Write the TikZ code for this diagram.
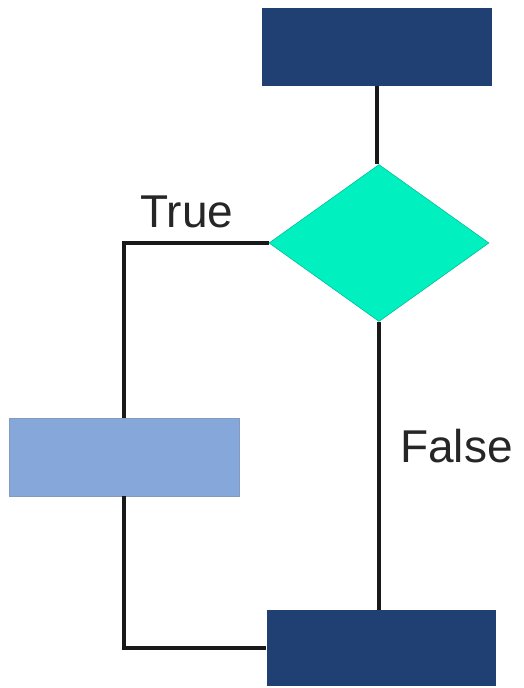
\documentclass[tikz,border=0pt]{standalone}
\usepackage{fontspec}
\setmainfont{Liberation Sans}
\usetikzlibrary{shapes.geometric}
\definecolor{navybox}{RGB}{32,64,116}
\definecolor{turqbox}{RGB}{0,240,192}
\definecolor{lightbox}{RGB}{134,167,217}
\begin{document}
\begin{tikzpicture}[x=1pt, y=-1pt,
		block/.style = {rectangle, inner sep=0pt, minimum width=230pt,
				minimum height=78pt},
		decision/.style = {diamond, inner sep=0pt, minimum width=220pt,
				minimum height=157pt, fill=turqbox, draw=turqbox!80!black,
				line width=0.6pt},
		link/.style = {line width=4pt, draw=black!90},
		lbl/.style = {font=\fontsize{46}{50}\selectfont, text=black!85,
				inner sep=0pt}
	]
	\useasboundingbox (0,0) rectangle (523,688);

	% the boxes
	\node[block, fill=navybox] (start) at (377,47) {};
	\node[decision] (test) at (379,243) {};
	\node[block, fill=lightbox, draw=lightbox!70!gray, line width=0.6pt]
	(body) at (124,457) {};
	\node[block, fill=navybox, minimum width=229pt, minimum height=76pt]
	(next) at (381,648) {};

	% connectors
	\draw[link] (start.south) -- (start.south |- test.north);
	\draw[link] (test.west) -| (body.north);
	\draw[link] (body.south) |- (next.west);
	\draw[link] (test.south) -- (test.south |- next.north);

	\node[lbl, anchor=base] (t) at (187,227) {True};
	\node[lbl, anchor=base west] (f) at (400,462) {False};
\end{tikzpicture}
\end{document}
